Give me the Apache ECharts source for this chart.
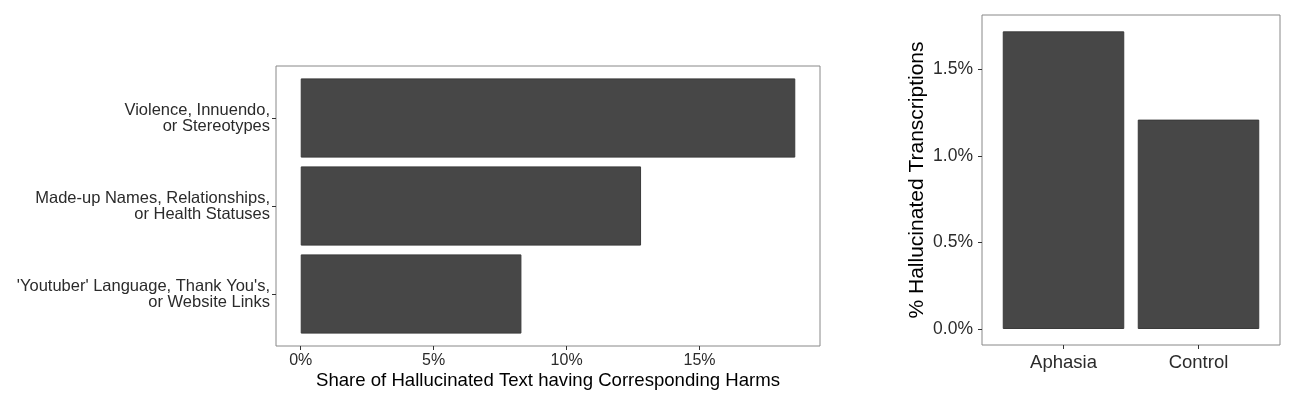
<!DOCTYPE html>
<html>
<head>
<meta charset="utf-8">
<script src="https://cdn.jsdelivr.net/npm/echarts@6/dist/echarts.min.js"></script>
<style>html,body{margin:0;padding:0;background:#fff}#c{width:1300px;height:405px}</style>
</head>
<body>
<div id="c"></div>
<script>
const harmCategories = [
  "Violence, Innuendo,\nor Stereotypes",
  "Made-up Names, Relationships,\nor Health Statuses",
  "'Youtuber' Language, Thank You's,\nor Website Links"
];
const harmShares = [18.6, 12.8, 8.3];
const shareTicks = [0, 5, 10, 15];
const groups = ["Aphasia", "Control"];
const hallucinationRates = [1.72, 1.21];
const rateTicks = [0, 0.5, 1.0, 1.5];
const leftTitle = "Share of Hallucinated Text having Corresponding Harms";
const rightTitle = "% Hallucinated Transcriptions";

const FONT = "Liberation Sans, Arial, sans-serif";
const TXT = "#2b2b2b";
const BAR = "#474747";
const chart = echarts.init(document.getElementById('c'), null, {renderer: 'canvas'});

const hidden = (g) => ({gridIndex: g, type: 'value', show: false, min: 0, max: 1});
const tick = {show: true, length: 4, lineStyle: {color: '#333', width: 1}};

// ggplot-like 5% expansion of the value ranges
const shareMax = Math.max(...harmShares);
const rateMax = Math.max(...hallucinationRates);

chart.setOption({
  animation: false,
  backgroundColor: '#fff',
  grid: [
    {left: 276, top: 66, width: 544, height: 280, show: true, borderColor: '#888', borderWidth: 1, backgroundColor: 'transparent'},
    {left: 276, top: 74, width: 544, height: 264},
    {left: 982, top: 15, width: 298, height: 330, show: true, borderColor: '#888', borderWidth: 1, backgroundColor: 'transparent'},
    {left: 996, top: 15, width: 270, height: 330}
  ],
  xAxis: [
    hidden(0),
    {gridIndex: 1, type: 'value', min: -shareMax * 0.05, max: shareMax * 1.05, offset: 8,
     axisLine: {show: false, onZero: false}, splitLine: {show: false},
     axisTick: Object.assign({customValues: shareTicks}, tick),
     axisLabel: {customValues: shareTicks, margin: 7, color: TXT, fontSize: 16, fontFamily: FONT, formatter: v => v + '%'}},
    hidden(2),
    {gridIndex: 3, type: 'category', data: groups,
     axisLine: {show: false, onZero: false}, axisTick: Object.assign({alignWithLabel: true}, tick),
     axisLabel: {margin: 8, color: TXT, fontSize: 18.5, fontFamily: FONT}}
  ],
  yAxis: [
    hidden(0),
    {gridIndex: 1, type: 'category', data: harmCategories, inverse: true,
     axisLine: {show: false, onZero: false}, axisTick: Object.assign({alignWithLabel: true}, tick),
     axisLabel: {margin: 6, color: TXT, fontSize: 16.5, lineHeight: 16, fontFamily: FONT, align: 'right'}},
    hidden(2),
    {gridIndex: 3, type: 'value', min: -0.0925, max: rateMax * 1.055, offset: 14,
     axisLine: {show: false, onZero: false}, splitLine: {show: false},
     axisTick: Object.assign({customValues: rateTicks}, tick),
     axisLabel: {customValues: rateTicks, margin: 9, color: TXT, fontSize: 17.5, fontFamily: FONT, formatter: v => v.toFixed(1) + '%'}}
  ],
  series: [
    {type: 'bar', xAxisIndex: 1, yAxisIndex: 1, data: harmShares, barWidth: '90%',
     itemStyle: {color: BAR, borderColor: '#3a3a3a', borderWidth: 1}},
    {type: 'bar', xAxisIndex: 3, yAxisIndex: 3, data: hallucinationRates, barWidth: '90%',
     itemStyle: {color: BAR, borderColor: '#3a3a3a', borderWidth: 1}}
  ],
  graphic: [
    {type: 'text', x: 548, y: 381,
     style: {text: leftTitle, fontSize: 18.6, fontFamily: FONT, fill: '#000', textAlign: 'center', textVerticalAlign: 'middle'}},
    {type: 'text', x: 917, y: 180, rotation: Math.PI / 2,
     style: {text: rightTitle, fontSize: 21, fontFamily: FONT, fill: '#000', textAlign: 'center', textVerticalAlign: 'middle'}}
  ]
});
</script>
</body>
</html>
